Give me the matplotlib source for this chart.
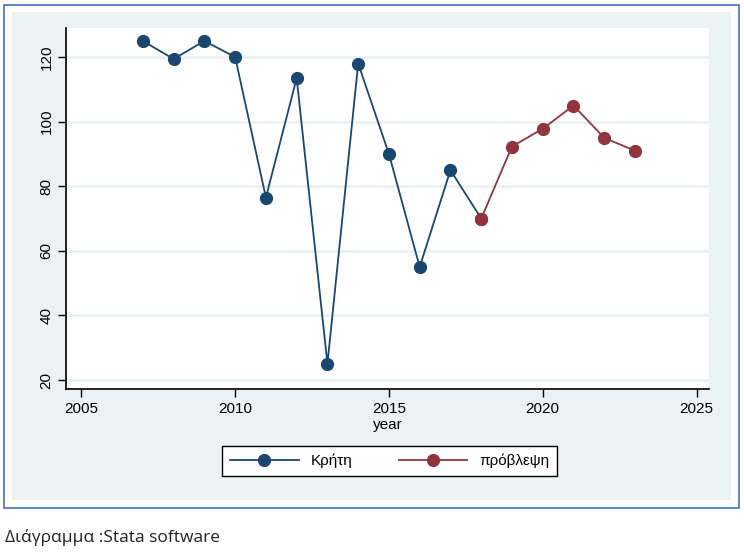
import matplotlib.pyplot as plt
from matplotlib.patches import Rectangle

plt.rcParams['font.family'] = ['Liberation Sans', 'DejaVu Sans']

# data
years = [2007, 2008, 2009, 2010, 2011, 2012, 2013, 2014, 2015, 2016, 2017, 2018]
crete = [125, 119.4, 125, 120, 76.5, 113.5, 25, 118, 90, 55, 85, 70]
fc_years = [2018, 2019, 2020, 2021, 2022, 2023]
forecast = [70, 92.3, 97.8, 105, 95, 91]
x_ticks = [2005, 2010, 2015, 2020, 2025]
y_ticks = [20, 40, 60, 80, 100, 120]

navy = '#1a476f'
maroon = '#90353b'
bg = '#eaf2f3'

fig = plt.figure(figsize=(7.44, 5.55), dpi=100)

# outer frame and stata-like background
fig.patches.append(Rectangle((0.0054, 0.0847), 0.988, 0.906, transform=fig.transFigure,
                             facecolor='white', edgecolor='#4472c4', lw=1.2, zorder=-10))
fig.patches.append(Rectangle((0.0161, 0.0991), 0.9664, 0.879, transform=fig.transFigure,
                             facecolor=bg, edgecolor='none', zorder=-9))

ax = fig.add_axes([0.0887, 0.299, 0.864, 0.6505])
ax.set_facecolor('white')

ax.plot(years, crete, color=navy, lw=1.3, marker='o', ms=8.5, label='Κρήτη', zorder=3)
ax.plot(fc_years, forecast, color=maroon, lw=1.3, marker='o', ms=8.5, label='πρόβλεψη', zorder=3)

ax.set_xlim(2004.5, 2025.4)
ax.set_ylim(17.2, 129)
ax.set_xticks(x_ticks)
ax.set_yticks(y_ticks)
ax.set_yticklabels([str(v) for v in y_ticks], rotation=90, va='center')
ax.tick_params(axis='both', length=6, width=1, labelsize=11, colors='black')
ax.tick_params(axis='y', pad=3)

for v in y_ticks:
    ax.axhline(v, color=bg, lw=2.2, zorder=1)

for s in ['top', 'right']:
    ax.spines[s].set_visible(False)
for s in ['left', 'bottom']:
    ax.spines[s].set_color('black')
    ax.spines[s].set_linewidth(1.2)

ax.set_xlabel('year', fontsize=11, labelpad=1)

leg = fig.legend(loc='center', bbox_to_anchor=(0.524, 0.169), ncol=2, fontsize=11,
                 frameon=True, fancybox=False, edgecolor='black', facecolor='white',
                 framealpha=1, handlelength=4.5, columnspacing=3, borderpad=0.5)
leg.get_frame().set_linewidth(1)

fig.text(0.007, 0.031, 'Διάγραμμα :Stata software', fontsize=12.5, va='center',
         family=['Open Sans', 'DejaVu Sans'], color='#222222')

fig.savefig('out.png', dpi=100)
